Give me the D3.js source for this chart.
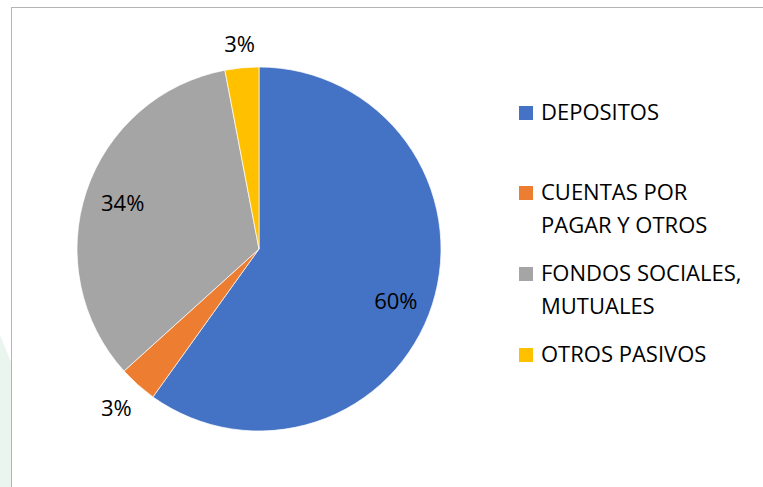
<!DOCTYPE html>
<html>
<head>
<meta charset="utf-8">
<script src="https://cdn.jsdelivr.net/npm/d3@7"></script>
<style>
  body { margin: 0; background: #ffffff; }
  svg { display: block; }
</style>
</head>
<body>
<div id="chart"></div>
<script>
// data
var categories = ["DEPOSITOS", "CUENTAS POR PAGAR Y OTROS", "FONDOS SOCIALES, MUTUALES", "OTROS PASIVOS"];
var values = [59.9, 3.4, 33.7, 3.0];
var pctLabels = ["60%", "3%", "34%", "3%"];
var legendLines = [["DEPOSITOS"], ["CUENTAS POR", "PAGAR Y OTROS"], ["FONDOS SOCIALES,", "MUTUALES"], ["OTROS PASIVOS"]];
var colors = ["#4472c4", "#ed7d31", "#a5a5a5", "#ffc000"];

var W = 763, H = 487;
var cx = 259, cy = 249, R = 182;
var FONT = "'Open Sans', 'Noto Sans', sans-serif";
var FSIZE = "22px";

var svg = d3.select("#chart").append("svg")
  .attr("width", W)
  .attr("height", H);

// faint background bit left of the frame
svg.append("path")
  .attr("d", "M0,335 L11,362 L11," + H + " L0," + H + " Z")
  .attr("fill", "#ebf5f0");

// chart frame
svg.append("rect")
  .attr("x", 11.5).attr("y", 7.5)
  .attr("width", W + 10).attr("height", H + 10)
  .attr("fill", "white")
  .attr("stroke", "#b4b4b4")
  .attr("stroke-width", 1);

var table = categories.map(function(c, i){
  return {name: c, value: values[i], label: pctLabels[i], color: colors[i]};
});

var pie = d3.pie().sort(null).value(function(d){ return d.value; });
var arcs = pie(table);
var arc = d3.arc().innerRadius(0).outerRadius(R);

var g = svg.append("g").attr("transform", "translate(" + cx + "," + cy + ")");

g.selectAll("path.slice")
  .data(arcs)
  .enter().append("path")
    .attr("class", "slice")
    .attr("d", arc)
    .attr("fill", function(d){ return d.data.color; })
    .attr("stroke", "white")
    .attr("stroke-width", 0.7);

// big slices get the label inside, small ones just outside the rim
function labelPos(d){
  var a = (d.startAngle + d.endAngle) / 2;
  var s = Math.sin(a), c = -Math.cos(a);
  var r;
  if(d.data.value > 10){
    r = R * 0.79;
  } else {
    r = R + 12 + Math.abs(c) * 10 + Math.abs(s) * 19;
  }
  var p = [s * r, c * r];
  if(d.data.value > 50) p[1] += 8;
  return p;
}

g.selectAll("text.pct")
  .data(arcs)
  .enter().append("text")
    .attr("class", "pct")
    .attr("transform", function(d){
      var p = labelPos(d);
      return "translate(" + p[0] + "," + p[1] + ")";
    })
    .attr("text-anchor", "middle")
    .attr("dy", "0.35em")
    .style("font-family", FONT)
    .style("font-size", FSIZE)
    .style("fill", "#000")
    .text(function(d){ return d.data.label; });

// legend
var legendRowY = [120, 200, 281, 362];
var items = svg.append("g").selectAll("g.item")
  .data(table)
  .enter().append("g")
    .attr("class", "item")
    .attr("transform", function(d, i){
      return "translate(519," + legendRowY[i] + ")";
    });

items.append("rect")
  .attr("x", 0).attr("y", -14)
  .attr("width", 14).attr("height", 14)
  .attr("fill", function(d){ return d.color; });

items.each(function(d, i){
  var t = d3.select(this).append("text")
    .attr("x", 22).attr("y", 0)
    .style("font-family", FONT)
    .style("font-size", FSIZE)
    .style("fill", "#000");
  legendLines[i].forEach(function(line, k){
    t.append("tspan").attr("x", 22).attr("y", k * 33).text(line);
  });
});
</script>
</body>
</html>
